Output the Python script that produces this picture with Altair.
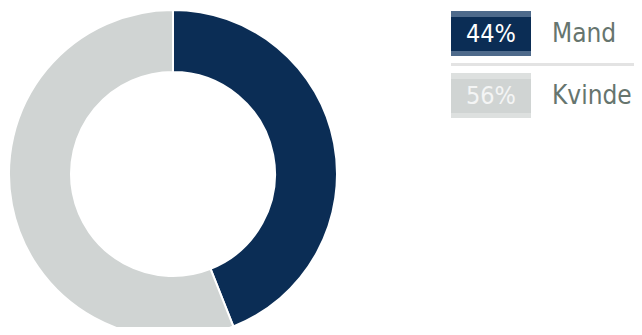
import altair as alt
import pandas as pd

categories = ["Mand", "Kvinde"]
values = [44, 56]
labels = ["44%", "56%"]
order = [0, 1]

main_colors = ["#0b2d55", "#d0d4d3"]
band_colors = ["#4e6a8b", "#dde0df"]
pct_text_colors = ["#ffffff", "#f4f5f5"]

df = pd.DataFrame({
    "category": categories,
    "value": values,
    "label": labels,
    "order": order,
})

FONT = "DejaVu Sans Condensed, DejaVu Sans"

base = alt.Chart(df)

donut = base.mark_arc(
    outerRadius=164, innerRadius=102, stroke="white", strokeWidth=2, clip=True
).encode(
    theta=alt.Theta("value:Q", stack=True),
    color=alt.Color("category:N", scale=alt.Scale(domain=categories, range=main_colors), legend=None),
    order=alt.Order("order:Q"),
    x=alt.value(165),
    y=alt.value(166),
)

# legend rows on a band scale
yscale = alt.Scale(domain=categories, range=[-5.5, 118.5], paddingInner=0, paddingOuter=0)
yenc = alt.Y("category:N", scale=yscale, axis=None)

outer_box = base.mark_bar(size=45).encode(
    y=yenc, x=alt.value(443), x2=alt.value(523),
    color=alt.Color("category:N", scale=alt.Scale(domain=categories, range=band_colors), legend=None),
)
inner_box = base.mark_bar(size=34, yOffset=0.5).encode(
    y=yenc, x=alt.value(443), x2=alt.value(523),
    color=alt.Color("category:N", scale=alt.Scale(domain=categories, range=main_colors), legend=None),
)
pct = base.mark_text(font=FONT, fontSize=25, align="center", baseline="middle").encode(
    y=yenc, x=alt.value(483), text="label:N",
    color=alt.Color("category:N", scale=alt.Scale(domain=categories, range=pct_text_colors), legend=None),
)
name = base.mark_text(font=FONT, fontSize=26, align="left", baseline="middle", color="#66756e").encode(
    y=yenc, x=alt.value(544), text="category:N",
)
sep = base.transform_filter(alt.datum.category == "Kvinde").mark_rule(
    color="#e3e3e3", strokeWidth=3
).encode(
    y=alt.Y("category:N", bandPosition=0, scale=yscale, axis=None),
    x=alt.value(443), x2=alt.value(626),
)

chart = alt.layer(donut, outer_box, inner_box, pct, name, sep).resolve_scale(
    color="independent"
).properties(
    width=626, height=319, padding=0,
    autosize=alt.AutoSizeParams(type="none"),
).configure_view(stroke=None)

chart.save("out.html", embed_options={"renderer": "svg", "actions": False})
